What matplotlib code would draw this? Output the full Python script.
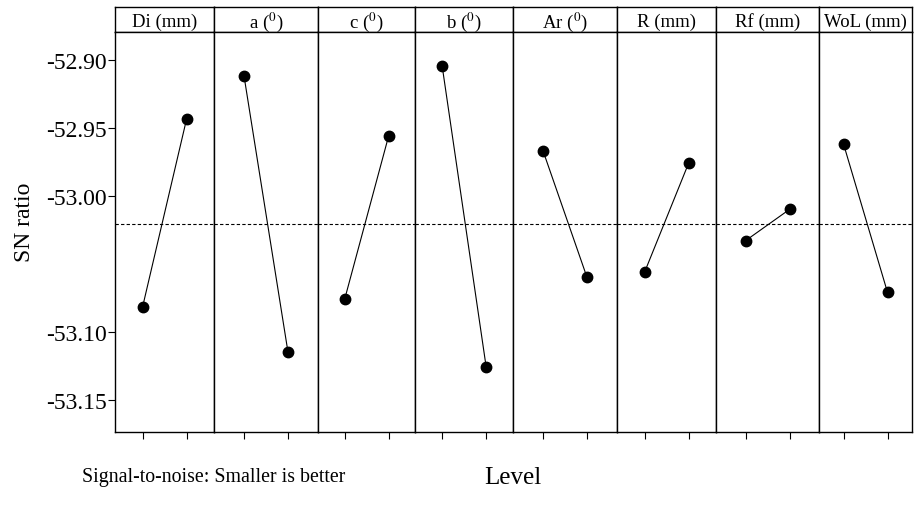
import matplotlib
matplotlib.use('Agg')
import matplotlib.pyplot as plt
from matplotlib.ticker import FormatStrFormatter

plt.rcParams['font.family'] = ['Liberation Serif', 'DejaVu Serif']
plt.rcParams['mathtext.fontset'] = 'stix'

# Data (SN ratio means per level)
factors = ['Di (mm)', r'a ($^{0}$)', r'c ($^{0}$)', r'b ($^{0}$)', r'Ar ($^{0}$)',
           'R (mm)', 'Rf (mm)', 'WoL (mm)']
levels = [1, 2]
level1 = [-53.082, -52.912, -53.076, -52.905, -52.967, -53.056, -53.033, -52.962]
level2 = [-52.944, -53.115, -52.956, -53.126, -53.060, -52.976, -53.010, -53.071]
overall_mean = -53.021
yticks = [-52.90, -52.95, -53.00, -53.10, -53.15]

# panel widths in pixels, as in the original
widths = [99, 104, 97.4, 97.6, 104, 99.4, 102.6, 93]
px_per_level = 44.0

fig = plt.figure(figsize=(9.24, 5.06), dpi=100)
gs = fig.add_gridspec(2, 8, height_ratios=[25, 399.4], width_ratios=widths,
                      left=115 / 924, right=912 / 924, top=1 - 8.3 / 506,
                      bottom=1 - 432.7 / 506, hspace=0, wspace=0)

for i, name in enumerate(factors):
    hax = fig.add_subplot(gs[0, i])
    hax.set_xticks([])
    hax.set_yticks([])
    for s in hax.spines.values():
        s.set_linewidth(1.0)
    hax.text(0.5, 0.45, name, ha='center', va='center', fontsize=13.5,
             transform=hax.transAxes)

    ax = fig.add_subplot(gs[1, i])
    ax.plot(levels, [level1[i], level2[i]], color='black', linewidth=0.8,
            marker='o', markersize=7.5)
    ax.axhline(overall_mean, color='black', linewidth=0.8, linestyle=(0, (3, 2)))
    half = widths[i] / (2 * px_per_level)
    ax.set_xlim(1.5 - half, 1.5 + half)
    ax.set_ylim(-53.1734, -52.880)
    ax.set_xticks(levels)
    ax.set_xticklabels([])
    ax.tick_params(axis='x', direction='out', length=5, width=0.8)
    for s in ax.spines.values():
        s.set_linewidth(1.0)
    if i == 0:
        ax.set_yticks(yticks)
        ax.yaxis.set_major_formatter(FormatStrFormatter('%.2f'))
        ax.tick_params(axis='y', direction='out', length=5, width=0.8,
                       labelsize=17, pad=1)
    else:
        ax.set_yticks([])

fig.text(25 / 924, 1 - 222 / 506, 'SN ratio', rotation=90, ha='center',
         va='center', fontsize=17)
fig.text(513 / 924, 1 - 478 / 506, 'Level', ha='center', va='center',
         fontsize=18)
fig.text(82 / 924, 1 - 478 / 506, 'Signal-to-noise: Smaller is better',
         ha='left', va='center', fontsize=14.3)

fig.savefig('out.png', dpi=100)
